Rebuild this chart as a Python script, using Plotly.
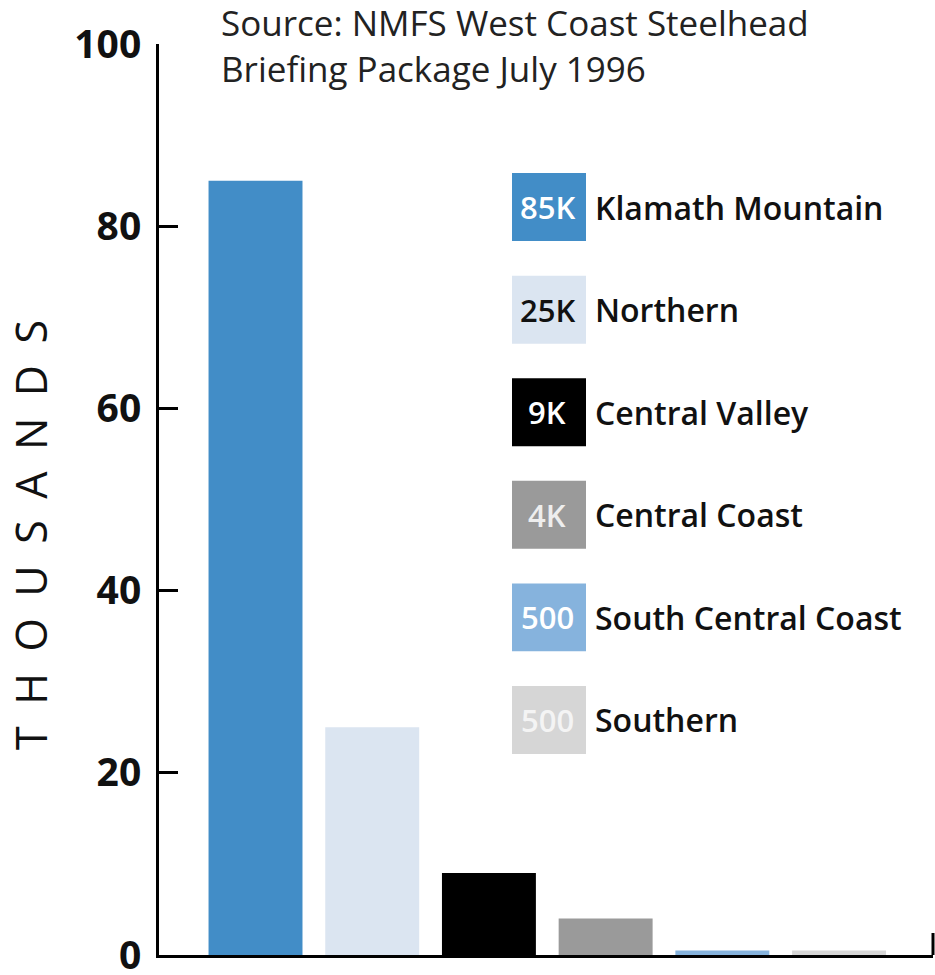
import plotly.graph_objects as go

regions = ["Klamath Mountain", "Northern", "Central Valley", "Central Coast",
           "South Central Coast", "Southern"]
values = [85, 25, 9, 4, 0.5, 0.5]          # thousands
value_labels = ["85K", "25K", "9K", "4K", "500", "500"]
colors = ["#428dc7", "#dbe5f1", "#000000", "#9a9a9a", "#86b3dd", "#d6d6d6"]
label_colors = ["#ffffff", "#111111", "#ffffff", "#eeeeee", "#ffffff", "#f4f4f4"]
y_ticks = [0, 20, 40, 60, 80, 100]
source_lines = ["Source: NMFS West Coast Steelhead", "Briefing Package July 1996"]
y_title = "THOUSANDS"

W, H = 935, 975
L, R, T, B = 159, 2, 44, 20
pw, ph = W - L - R, H - T - B

def px_x(p):
    return (p - L) / pw

def px_y(p):
    return (H - B - p) / ph

fig = go.Figure()
fig.add_trace(go.Bar(
    x=regions, y=values, marker=dict(color=colors, line=dict(width=0)),
    hoverinfo="x+y", showlegend=False,
))

# custom legend (swatches with value labels)
legend_top = 82.1      # data units of first swatch center
legend_step = 11.26
half_h = 3.73
for i, (name, lab, col, lc) in enumerate(zip(regions, value_labels, colors, label_colors)):
    yc = legend_top - i * legend_step
    fig.add_shape(type="rect", xref="paper", yref="y",
                  x0=px_x(512), x1=px_x(586), y0=yc - half_h, y1=yc + half_h,
                  fillcolor=col, line=dict(width=0), layer="above")
    fig.add_annotation(xref="paper", yref="y", x=px_x(547), y=yc, text=lab,
                       showarrow=False, xanchor="center", yanchor="middle",
                       font=dict(family="Open Sans", size=31, color=lc, weight=600))
    fig.add_annotation(xref="paper", yref="y", x=px_x(593), y=yc, text=name,
                       showarrow=False, xanchor="left", yanchor="middle",
                       font=dict(family="Open Sans", size=32, color="#111111", weight=600))

# source text
fig.add_annotation(xref="paper", yref="paper", x=px_x(219), y=px_y(-3),
                   text="<br>".join(source_lines), showarrow=False,
                   xanchor="left", yanchor="top", align="left",
                   font=dict(family="Open Sans", size=35, color="#222222"))

# y-axis title, letter-spaced
fig.add_annotation(xref="paper", yref="paper", x=px_x(30), y=px_y(535),
                   text="\u2002".join(y_title), showarrow=False, textangle=-90,
                   xanchor="center", yanchor="middle",
                   font=dict(family="Open Sans", size=43, color="#111111"))

# small upward tick at right end of x axis
fig.add_shape(type="line", xref="paper", yref="paper", x0=1, x1=1, y0=0,
              y1=22 / ph, line=dict(color="black", width=3))

fig.update_layout(
    width=W, height=H, margin=dict(l=L, r=R, t=T, b=B, autoexpand=False),
    paper_bgcolor="white", plot_bgcolor="white",
    bargap=0.195,
    xaxis=dict(type="category", range=[-0.827, 5.805], showticklabels=False,
               ticks="", showline=True, linecolor="black", linewidth=3,
               showgrid=False, zeroline=False, fixedrange=True),
    yaxis=dict(range=[0, 100], tickvals=y_ticks, ticks="inside", ticklen=19,
               tickwidth=3, tickcolor="black", showline=True, linecolor="black",
               linewidth=3, showgrid=False, zeroline=False, ticklabelstandoff=7,
               ticklabeloverflow="allow",
               tickfont=dict(family="Open Sans", size=39, color="#111111", weight=700)),
)

fig.write_html("out.html", config={"displayModeBar": False},
               post_script="document.body.style.margin='0';")
